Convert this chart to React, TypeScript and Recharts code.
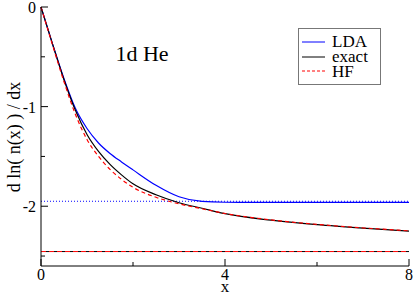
import React from "react";
import { LineChart, Line, XAxis, YAxis } from "recharts";

// values
const xs = [0, 0.25, 0.5, 0.75, 1, 1.25, 1.5, 1.75, 2, 2.5, 3, 3.5, 4, 5, 6, 7, 8];
const exact = [0, -0.37, -0.73, -1.04, -1.28, -1.45, -1.58, -1.685, -1.775, -1.885, -1.965, -2.02, -2.075, -2.14, -2.185, -2.22, -2.25];
const hf = [0, -0.38, -0.75, -1.08, -1.33, -1.5, -1.63, -1.73, -1.81, -1.91, -1.976, -2.025, -2.073, -2.137, -2.182, -2.217, -2.247];
const lda = [0, -0.37, -0.72, -1.02, -1.22, -1.365, -1.47, -1.555, -1.635, -1.79, -1.905, -1.952, -1.96, -1.962, -1.962, -1.962, -1.962];

// asymptotic limits (horizontal lines)
const limitXs = [0, 8];
const ldaLimit = -1.95;
const exactLimit = -2.455;

const xMajor = [0, 4, 8];
const xTicks = [0, 2, 4, 6, 8];
const yMajor = [0, -1, -2];
const yTicks = [0, -0.5, -1, -1.5, -2, -2.5];

const toRows = (ys: number[]) => xs.map((x, i) => ({ x, y: ys[i] }));
const flat = (v: number) => limitXs.map((x) => ({ x, y: v }));

const FONT = "Liberation Serif, DejaVu Serif, serif";

const BottomTick = (p: any) => {
  const major = xMajor.includes(p.payload.value);
  return (
    <g>
      <line x1={p.x} x2={p.x} y1={p.y} y2={p.y - (major ? 7 : 4)} stroke="#000" />
      {major && (
        <text x={p.x} y={p.y + 14} textAnchor="middle" fontSize={16} fontFamily={FONT} fill="#000">
          {p.payload.value}
        </text>
      )}
    </g>
  );
};

const TopTick = (p: any) => {
  const major = xMajor.includes(p.payload.value);
  return <line x1={p.x} x2={p.x} y1={p.y} y2={p.y + (major ? 7 : 4)} stroke="#000" />;
};

const LeftTick = (p: any) => {
  const major = yMajor.includes(p.payload.value);
  return (
    <g>
      <line x1={p.x} x2={p.x + (major ? 7 : 4)} y1={p.y} y2={p.y} stroke="#000" />
      {major && (
        <text x={p.x - 5} y={p.y + 6} textAnchor="end" fontSize={16} fontFamily={FONT} fill="#000">
          {String(p.payload.value)}
        </text>
      )}
    </g>
  );
};

const RightTick = (p: any) => {
  const major = yMajor.includes(p.payload.value);
  return <line x1={p.x} x2={p.x - (major ? 7 : 4)} y1={p.y} y2={p.y} stroke="#000" />;
};

export default function App() {
  return (
    <div style={{ position: "absolute", left: 0, top: 0, width: 415, height: 295, background: "#fff", fontFamily: FONT }}>
      <LineChart width={415} height={295} margin={{ top: 7, right: 6, bottom: 0, left: 0 }}>
        <XAxis xAxisId="b" type="number" dataKey="x" domain={[0, 8]} ticks={xTicks} tickLine={false}
          tickSize={0} tickMargin={0} height={29} tick={BottomTick} stroke="#000" interval={0} />
        <XAxis xAxisId="t" orientation="top" type="number" dataKey="x" domain={[0, 8]} ticks={xTicks}
          tickLine={false} tickSize={0} tickMargin={0} height={0} tick={TopTick} stroke="#000" interval={0} />
        <YAxis yAxisId="l" type="number" domain={[-2.6, 0]} ticks={yTicks} tickLine={false}
          tickSize={0} tickMargin={0} width={41} tick={LeftTick} stroke="#000" interval={0} allowDataOverflow />
        <YAxis yAxisId="r" orientation="right" type="number" domain={[-2.6, 0]} ticks={yTicks}
          tickLine={false} tickSize={0} tickMargin={0} width={0} tick={RightTick} stroke="#000" interval={0} allowDataOverflow />

        <Line xAxisId="b" yAxisId="l" data={flat(ldaLimit)} dataKey="y" type="linear" stroke="#0000ff"
          strokeDasharray="1 2" dot={false} isAnimationActive={false} />
        <Line xAxisId="b" yAxisId="l" data={flat(exactLimit)} dataKey="y" type="linear" stroke="#000"
          strokeDasharray="3 5" strokeDashoffset={-5} dot={false} isAnimationActive={false} />
        <Line xAxisId="b" yAxisId="l" data={flat(exactLimit)} dataKey="y" type="linear" stroke="#ff0000"
          strokeDasharray="5 3" dot={false} isAnimationActive={false} />

        <Line xAxisId="b" yAxisId="l" data={toRows(lda)} dataKey="y" type="monotone" stroke="#0000ff"
          strokeWidth={1.2} dot={false} isAnimationActive={false} />
        <Line xAxisId="b" yAxisId="l" data={toRows(exact)} dataKey="y" type="monotone" stroke="#000"
          strokeWidth={1.2} dot={false} isAnimationActive={false} />
        <Line xAxisId="b" yAxisId="l" data={toRows(hf)} dataKey="y" type="monotone" stroke="#ff0000"
          strokeWidth={1.2} strokeDasharray="4 3" dot={false} isAnimationActive={false} />
      </LineChart>

      <div style={{ position: "absolute", left: 0, top: 0, pointerEvents: "none" }}>
        <svg width={415} height={295} fontFamily={FONT}>
          <text x={142} y={61} textAnchor="middle" fontSize={22}>1d He</text>
          <text x={225} y={292} textAnchor="middle" fontSize={17}>x</text>
          <text transform="translate(20,137) rotate(-90)" textAnchor="middle" fontSize={18}>
            d ln( n(x) ) / dx
          </text>
          <rect x={298.5} y={28.5} width={82} height={56} fill="#fff" stroke="#777" />
          <line x1={302} x2={325} y1={42} y2={42} stroke="#0000ff" />
          <text x={332} y={47} fontSize={17}>LDA</text>
          <line x1={302} x2={325} y1={57} y2={57} stroke="#000" />
          <text x={332} y={62} fontSize={17}>exact</text>
          <line x1={302} x2={325} y1={71} y2={71} stroke="#ff0000" strokeDasharray="3 2" />
          <text x={332} y={77} fontSize={17}>HF</text>
        </svg>
      </div>
    </div>
  );
}
